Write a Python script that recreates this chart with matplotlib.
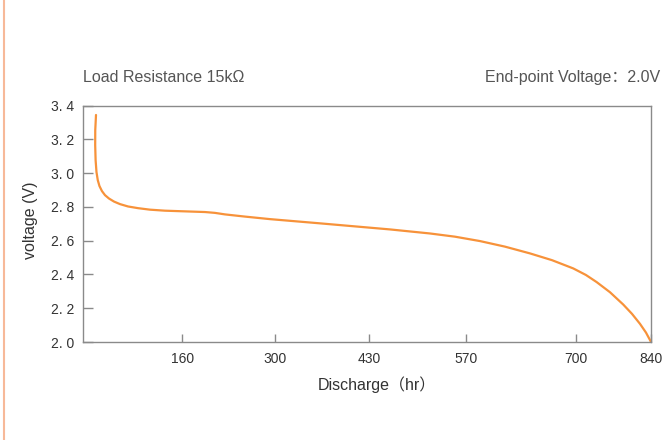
import matplotlib
matplotlib.use("Agg")
import matplotlib.pyplot as plt
from matplotlib.lines import Line2D

# Data
hours = [19.7, 18.6, 18.5, 19.1, 20.4, 22.3, 24.8, 28.5, 33.0, 38.9, 46.3, 55.1,
         67.0, 81.7, 99.5, 121.6, 151.2, 180.8, 195.5, 210.3, 239.9, 276.8,
         350.7, 454.2, 513.3, 550.3, 587.2, 624.2, 661.1, 693.6, 725.1, 743.9,
         759.7, 779.4, 799.0, 811.9, 823.7, 832.6, 838.5, 840.0]
voltage = [3.345, 3.256, 3.167, 3.078, 3.007, 2.959, 2.924, 2.894, 2.870, 2.850,
           2.832, 2.817, 2.803, 2.793, 2.784, 2.778, 2.774, 2.770, 2.765, 2.756,
           2.743, 2.728, 2.703, 2.667, 2.643, 2.624, 2.598, 2.565, 2.525, 2.485,
           2.436, 2.397, 2.355, 2.295, 2.222, 2.167, 2.108, 2.056, 2.012, 2.0]

x_tick_pos = [147.3, 284.2, 423.6, 566.0, 728.7, 840.0]
x_tick_labels = ['160', '300', '430', '570', '700', '840']
y_ticks = [2.0, 2.2, 2.4, 2.6, 2.8, 3.0, 3.2, 3.4]
y_tick_labels = ['2. 0', '2. 2', '2. 4', '2. 6', '2. 8', '3. 0', '3. 2', '3. 4']

title_left = 'Load Resistance 15kΩ'
title_right = 'End-point Voltage：2.0V'
x_label = 'Discharge（hr）'
y_label = 'voltage (V)'

plt.rcParams['font.family'] = ['Liberation Sans', 'Noto Sans CJK SC', 'DejaVu Sans']

fig = plt.figure(figsize=(6.7, 4.4), dpi=100)
ax = fig.add_axes([0.1234, 0.2227, 0.9716 - 0.1234, 0.7598 - 0.2227])

ax.plot(hours, voltage, color='#f7923a', lw=1.6, solid_capstyle='round',
        solid_joinstyle='round')

ax.set_xlim(0, 840)
ax.set_ylim(2.0, 3.4)
ax.set_xticks(x_tick_pos)
ax.set_xticklabels(x_tick_labels)
ax.set_yticks(y_ticks)
ax.set_yticklabels(y_tick_labels)

for s in ax.spines.values():
    s.set_color('#8a8a8a')
    s.set_linewidth(1.0)

ax.tick_params(axis='y', direction='in', length=7.5, width=1.0, color='#8a8a8a',
               labelsize=10, labelcolor='#333333', pad=6)
ax.tick_params(axis='x', direction='in', length=6, width=1.0, color='#8a8a8a',
               labelsize=10, labelcolor='#333333', pad=7)

fig.text(83 / 670, 1 - 78 / 440, title_left, ha='left', va='center',
         fontsize=11.5, color='#555555')
fig.text(660 / 670, 1 - 77 / 440, title_right, ha='right', va='center',
         fontsize=11.5, color='#555555')
fig.text(377 / 670, 1 - 385 / 440, x_label, ha='center', va='center',
         fontsize=11.5, color='#333333')
fig.text(30 / 670, 1 - 220 / 440, y_label, ha='center', va='center',
         rotation=90, fontsize=11.5, color='#333333')

fig.add_artist(Line2D([3.5 / 670, 3.5 / 670], [0, 1], color='#f7b999', lw=1.5,
                      transform=fig.transFigure))

fig.savefig('out.png', dpi=100)
